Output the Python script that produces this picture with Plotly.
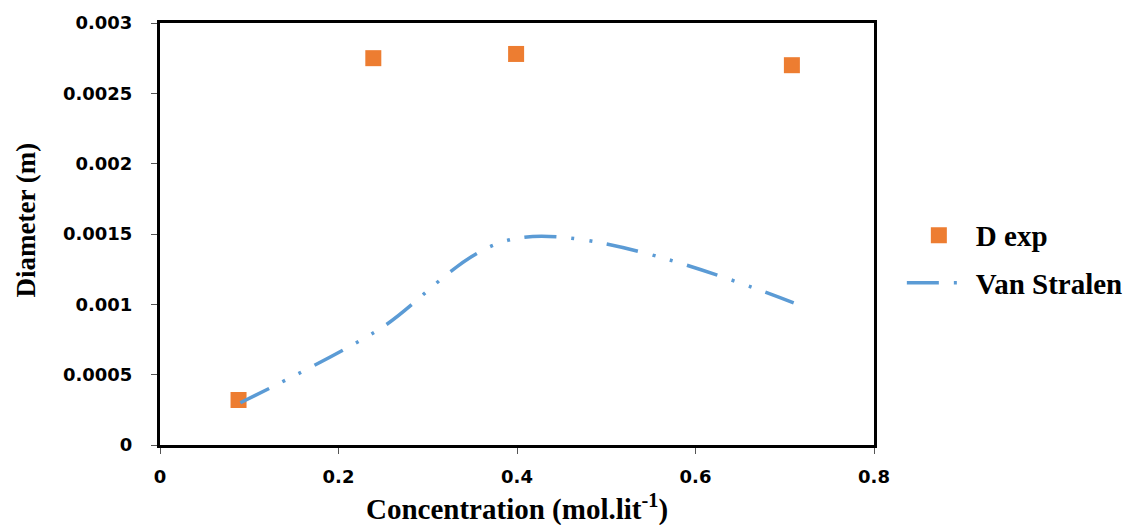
import plotly.graph_objects as go

# Data
conc_exp = [0.088, 0.239, 0.399, 0.708]
diam_exp = [0.00032, 0.00275, 0.00278, 0.00270]

conc_vs = [0.09, 0.24, 0.40, 0.71]
diam_vs = [0.00030, 0.00080, 0.00147, 0.00101]

x_ticks = [0, 0.2, 0.4, 0.6, 0.8]
x_tick_text = ["0", "0.2", "0.4", "0.6", "0.8"]
y_ticks = [0, 0.0005, 0.001, 0.0015, 0.002, 0.0025, 0.003]
y_tick_text = ["0", "0.0005", "0.001", "0.0015", "0.002", "0.0025", "0.003"]

x_title = "<b>Concentration (mol.lit<sup>-1</sup>)</b>"
y_title = "<b>Diameter (m)</b>"

serif = "Liberation Serif"
sans = "DejaVu Sans"

fig = go.Figure()
fig.add_trace(go.Scatter(
    x=conc_exp, y=diam_exp, mode="markers", name="D exp",
    legendgroup="a",
    marker=dict(symbol="square", size=16, color="#ED7D31"),
))
fig.add_trace(go.Scatter(
    x=conc_vs, y=diam_vs, mode="lines", name="Van Stralen",
    legendgroup="b",
    line=dict(color="#5B9BD5", width=3.5, shape="spline",
              dash="32px,15px,3px,15px,3px,15px"),
))

axis_common = dict(
    showgrid=False, zeroline=False, showline=True, linecolor="black",
    linewidth=3, mirror=True, ticks="outside", ticklen=6,
    tickcolor="#555", tickwidth=1, automargin=False,
)

fig.update_layout(
    width=1136, height=525,
    margin=dict(l=152, r=270, t=15, b=88),
    paper_bgcolor="white", plot_bgcolor="white",
    xaxis=dict(
        range=[0, 0.8], tickvals=x_ticks, ticktext=x_tick_text,
        tickfont=dict(family=sans, size=18, color="black", weight="bold"),
        ticklabelstandoff=7,
        **axis_common,
    ),
    yaxis=dict(
        range=[0, 0.003], tickvals=y_ticks, ticktext=y_tick_text,
        tickfont=dict(family=sans, size=18, color="black", weight="bold"),
        ticklabelstandoff=15,
        **axis_common,
    ),
    annotations=[
        dict(
            text=y_title, textangle=-90, xref="paper", yref="paper",
            x=0, y=0.532, xanchor="center", yanchor="middle", xshift=-134,
            showarrow=False, font=dict(family=serif, size=27, color="black"),
        ),
        dict(
            text=x_title, xref="paper", yref="paper",
            x=0.5, y=0, xanchor="center", yanchor="middle", yshift=-62,
            showarrow=False, font=dict(family=serif, size=29, color="black"),
        ),
    ],
    legend=dict(
        x=1.039, xanchor="left", y=0.44, yanchor="middle",
        font=dict(family=serif, size=29, color="black", weight="bold"),
        tracegroupgap=7, itemwidth=64, bgcolor="rgba(0,0,0,0)",
    ),
    showlegend=True,
)

fig.write_html("out.html")
